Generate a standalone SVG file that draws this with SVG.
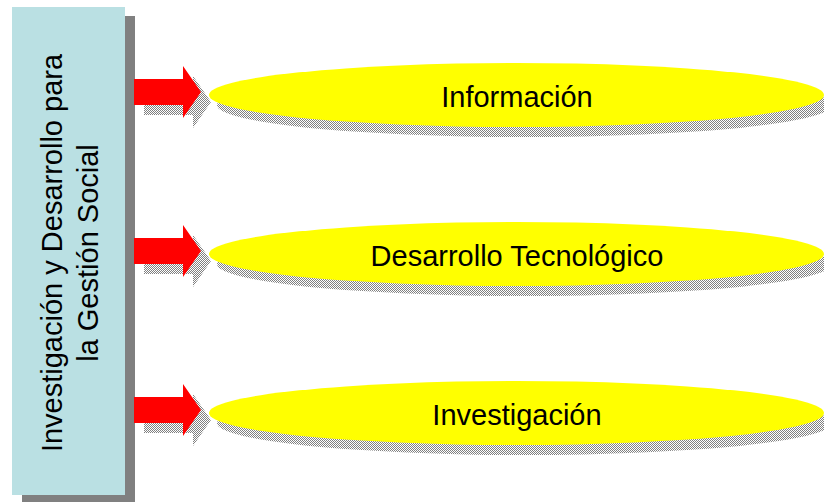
<svg xmlns="http://www.w3.org/2000/svg" width="824" height="502" viewBox="0 0 824 502">
  <defs>
    <pattern id="dither" patternUnits="userSpaceOnUse" width="2" height="2">
      <rect x="0" y="0" width="2" height="2" fill="#ffffff"/>
      <rect x="0" y="0" width="1" height="1" fill="#808080"/>
      <rect x="1" y="1" width="1" height="1" fill="#808080"/>
    </pattern>
    <path id="arrowShape" d="M0,-13 L49,-13 L49,-26 L67,0 L49,26 L49,13 L0,13 Z"/>
  </defs>
  <style>
    .lbl { font-family: "Liberation Sans", Arial, sans-serif; font-size: 29px; fill: #000000; }
    .oval { fill: #FFFF00; }
    .ovalShadow { fill: url(#dither); }
    .arrow { fill: #FF0000; }
    .arrowShadow { fill: url(#dither); }
  </style>
  <rect width="824" height="502" fill="#ffffff"/>

  <g id="main-box">
    <rect x="22" y="16" width="113" height="490" fill="#808080"/>
    <rect x="12" y="7" width="113" height="488" fill="#BAE0E3"/>
    <g transform="translate(0,253) rotate(-90)">
      <text class="lbl" x="0" y="62" text-anchor="middle">Investigación y Desarrollo para</text>
      <text class="lbl" x="0" y="98" text-anchor="middle">la Gestión Social</text>
    </g>
  </g>

  <g id="connectors">
    <use href="#arrowShape" class="arrowShadow" transform="translate(144,102)"/>
    <use href="#arrowShape" class="arrow" transform="translate(134,92)"/>
    <use href="#arrowShape" class="arrowShadow" transform="translate(144,261)"/>
    <use href="#arrowShape" class="arrow" transform="translate(134,251)"/>
    <use href="#arrowShape" class="arrowShadow" transform="translate(144,420)"/>
    <use href="#arrowShape" class="arrow" transform="translate(134,410)"/>
  </g>

  <g id="node-informacion">
    <ellipse class="ovalShadow" cx="524.5" cy="105" rx="307.5" ry="32"/>
    <ellipse class="oval" cx="516.5" cy="95" rx="307.5" ry="32"/>
    <text class="lbl" x="517" y="107" text-anchor="middle">Información</text>
  </g>

  <g id="node-desarrollo">
    <ellipse class="ovalShadow" cx="524.5" cy="264" rx="307.5" ry="32"/>
    <ellipse class="oval" cx="516.5" cy="254" rx="307.5" ry="32"/>
    <text class="lbl" x="517" y="266" text-anchor="middle">Desarrollo Tecnológico</text>
  </g>

  <g id="node-investigacion">
    <ellipse class="ovalShadow" cx="524.5" cy="423" rx="307.5" ry="32"/>
    <ellipse class="oval" cx="516.5" cy="413" rx="307.5" ry="32"/>
    <text class="lbl" x="517" y="425" text-anchor="middle">Investigación</text>
  </g>
</svg>
